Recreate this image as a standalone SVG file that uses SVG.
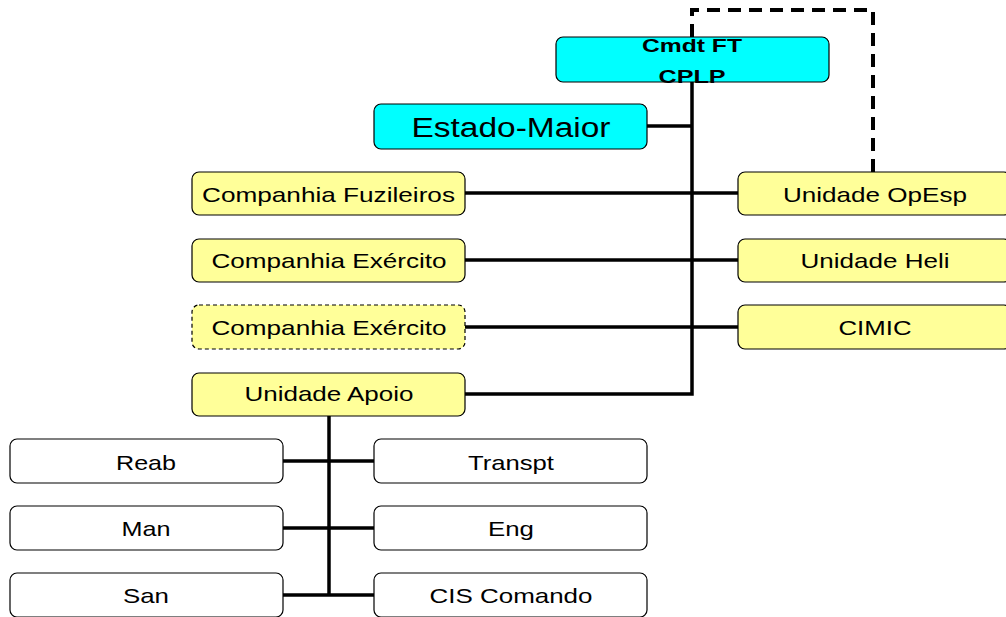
<svg xmlns="http://www.w3.org/2000/svg" width="1006" height="617" viewBox="0 0 1006 617">
<style>
.box{stroke:#000;stroke-width:1.2}
.cy{fill:#00FFFF}
.ye{fill:#FFFF99}
.wh{fill:#FFFFFF}
.dash{stroke-dasharray:4 3}
.t{font-family:"Liberation Sans",Arial,sans-serif;font-size:21px;fill:#000;text-anchor:middle}
.b{font-weight:bold;font-size:19px}
.big{font-size:27px}
.ln{stroke:#000;stroke-width:3.5;fill:none}
.dl{stroke:#000;stroke-width:4;fill:none;stroke-dasharray:13 8}
</style>
<rect width="1006" height="617" fill="#FFFFFF"/>
<g id="connectors">
<path class="dl" d="M692,37 V10 H873 V172"/>
<path class="ln" d="M692,82 V394 H465"/>
<path class="ln" d="M647,126 H692"/>
<path class="ln" d="M465,193 H738"/>
<path class="ln" d="M465,260 H738"/>
<path class="ln" d="M465,327 H738"/>
<path class="ln" d="M329,416 V595"/>
<path class="ln" d="M283,461 H374"/>
<path class="ln" d="M283,528 H374"/>
<path class="ln" d="M283,595 H374"/>
</g>
<g id="cmdt">
<rect class="box cy" x="556" y="37" width="273" height="45" rx="7"/>
<text class="t b" x="692" y="52" textLength="100" lengthAdjust="spacingAndGlyphs">Cmdt FT</text>
<text class="t b" x="692" y="83" textLength="67" lengthAdjust="spacingAndGlyphs">CPLP</text>
</g>
<g id="estado-maior">
<rect class="box cy" x="374" y="104" width="273" height="45" rx="7"/>
<text class="t big" x="511" y="137" textLength="199" lengthAdjust="spacingAndGlyphs">Estado-Maior</text>
</g>
<g id="cia-fuz">
<rect class="box ye" x="192" y="172" width="273" height="43" rx="7"/>
<text class="t" x="328.5" y="202" textLength="253" lengthAdjust="spacingAndGlyphs">Companhia Fuzileiros</text>
</g>
<g id="cia-ex1">
<rect class="box ye" x="192" y="239" width="273" height="43" rx="7"/>
<text class="t" x="329" y="268" textLength="235" lengthAdjust="spacingAndGlyphs">Companhia Exército</text>
</g>
<g id="cia-ex2">
<rect class="box ye dash" x="192" y="305" width="273" height="44" rx="7"/>
<text class="t" x="329" y="335" textLength="235" lengthAdjust="spacingAndGlyphs">Companhia Exército</text>
</g>
<g id="un-apoio">
<rect class="box ye" x="192" y="373" width="273" height="43" rx="7"/>
<text class="t" x="329" y="401" textLength="169" lengthAdjust="spacingAndGlyphs">Unidade Apoio</text>
</g>
<g id="un-opesp">
<rect class="box ye" x="738" y="172" width="273" height="43" rx="7"/>
<text class="t" x="875" y="202" textLength="184" lengthAdjust="spacingAndGlyphs">Unidade OpEsp</text>
</g>
<g id="un-heli">
<rect class="box ye" x="738" y="239" width="273" height="43" rx="7"/>
<text class="t" x="875" y="268" textLength="149" lengthAdjust="spacingAndGlyphs">Unidade Heli</text>
</g>
<g id="cimic">
<rect class="box ye" x="738" y="305" width="273" height="44" rx="7"/>
<text class="t" x="875" y="335" textLength="73" lengthAdjust="spacingAndGlyphs">CIMIC</text>
</g>
<g id="reab">
<rect class="box wh" x="10" y="439" width="273" height="44" rx="7"/>
<text class="t" x="146" y="470" textLength="60" lengthAdjust="spacingAndGlyphs">Reab</text>
</g>
<g id="transpt">
<rect class="box wh" x="374" y="439" width="273" height="44" rx="7"/>
<text class="t" x="511" y="470" textLength="86" lengthAdjust="spacingAndGlyphs">Transpt</text>
</g>
<g id="man">
<rect class="box wh" x="10" y="506" width="273" height="44" rx="7"/>
<text class="t" x="146" y="536" textLength="49" lengthAdjust="spacingAndGlyphs">Man</text>
</g>
<g id="eng">
<rect class="box wh" x="374" y="506" width="273" height="44" rx="7"/>
<text class="t" x="511" y="536" textLength="46" lengthAdjust="spacingAndGlyphs">Eng</text>
</g>
<g id="san">
<rect class="box wh" x="10" y="573" width="273" height="44" rx="7"/>
<text class="t" x="146" y="603" textLength="46" lengthAdjust="spacingAndGlyphs">San</text>
</g>
<g id="cis">
<rect class="box wh" x="374" y="573" width="273" height="44" rx="7"/>
<text class="t" x="511" y="603" textLength="163" lengthAdjust="spacingAndGlyphs">CIS Comando</text>
</g>
</svg>
